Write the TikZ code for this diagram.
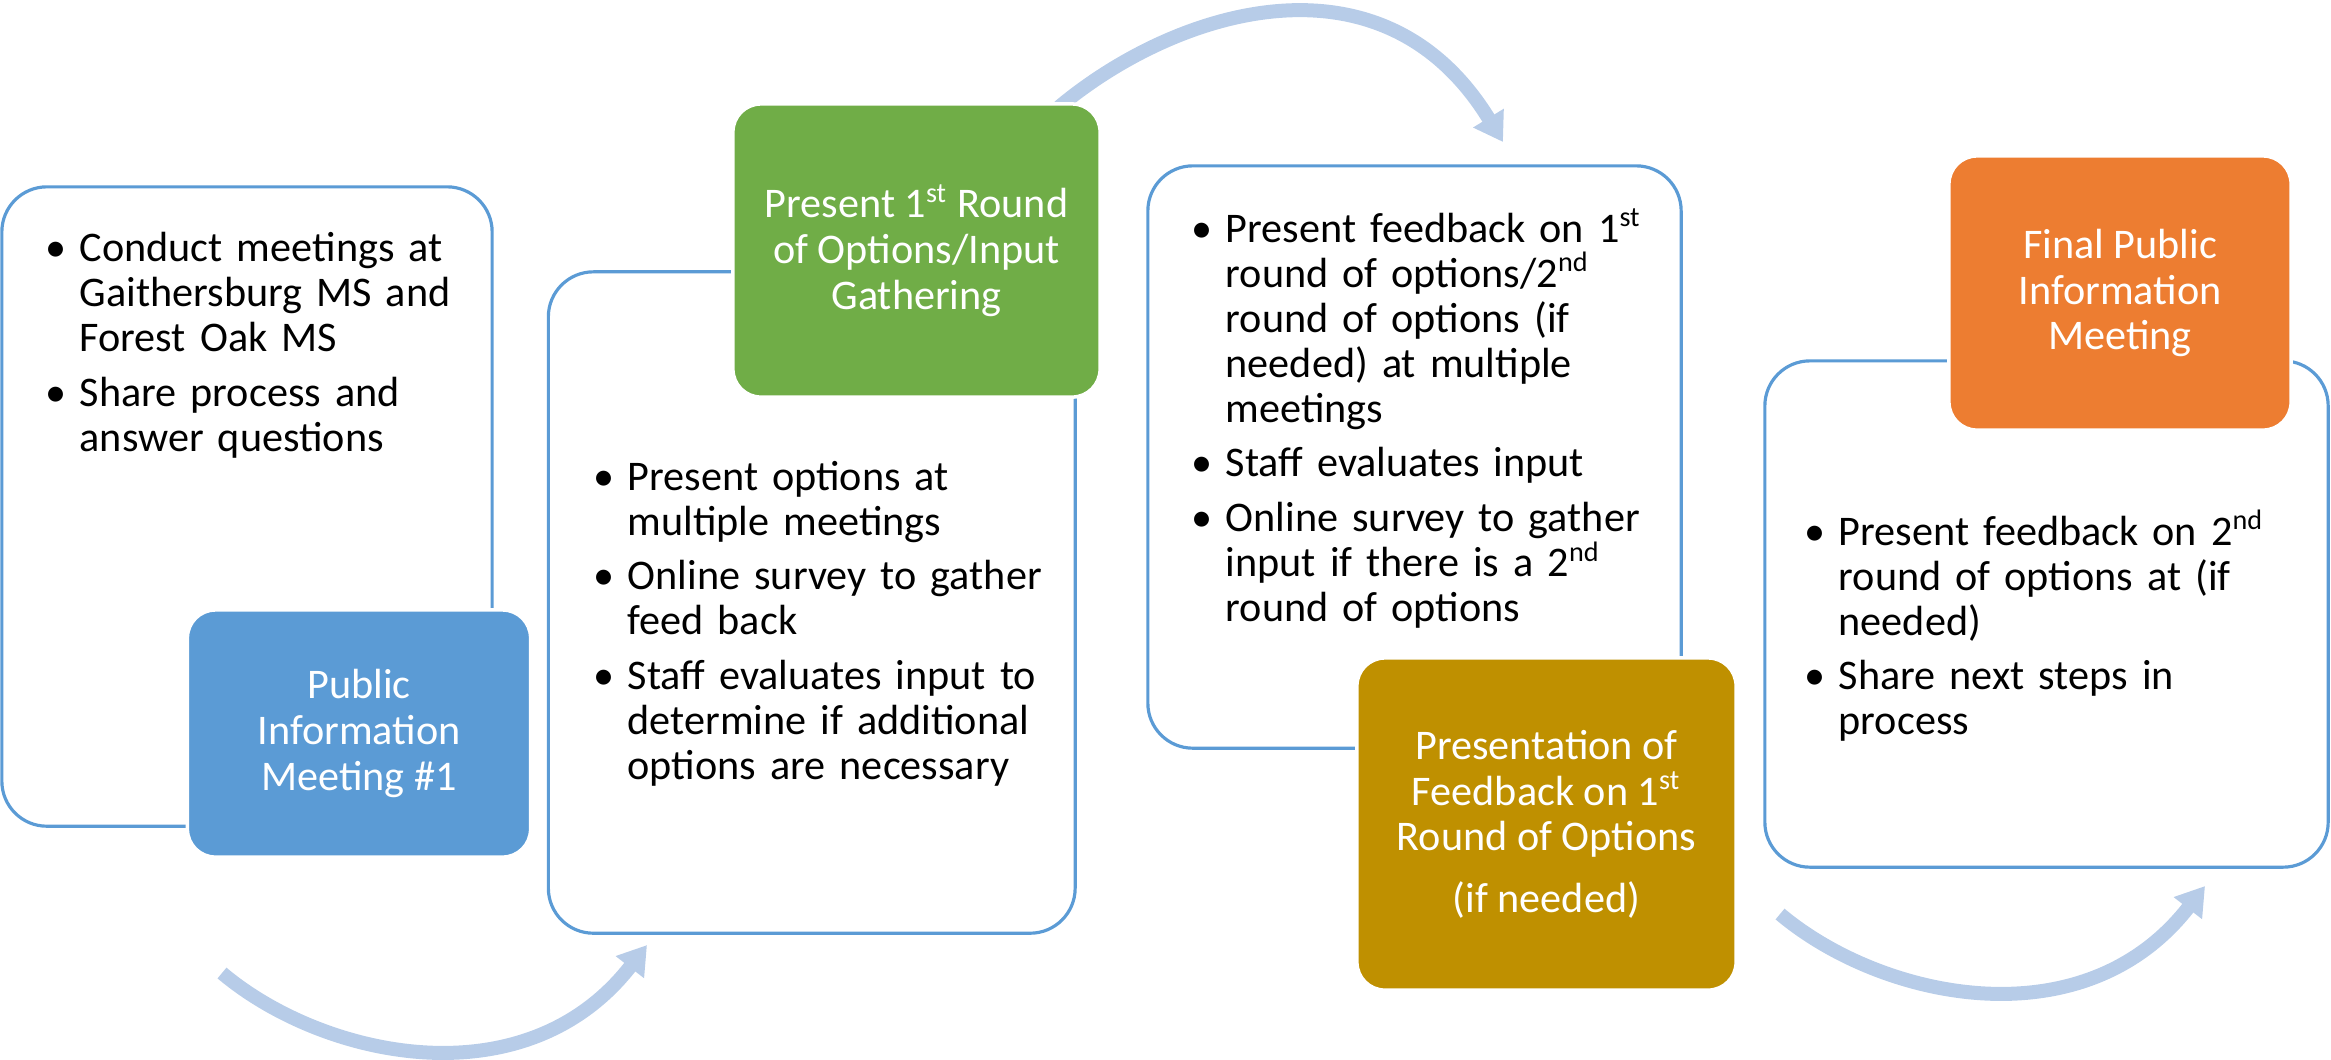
\documentclass[tikz,border=0pt]{standalone}
\usepackage{fontspec}
\setmainfont{Carlito}
\usetikzlibrary{arrows.meta,positioning}
\definecolor{edgeblue}{HTML}{5B9BD5}
\definecolor{arrowblue}{HTML}{B7CCE8}
\definecolor{stageblue}{HTML}{5B9BD5}
\definecolor{stagegreen}{HTML}{70AD47}
\definecolor{stagegold}{HTML}{BF9000}
\definecolor{stageorange}{HTML}{ED7D31}
\newcommand{\bpt}[1]{\noindent\hangindent=0.34cm\hangafter=1\hbox to 0.34cm{\textbullet\hss}#1\par\parskip=2.8pt\relax}
\begin{document}
\begin{tikzpicture}[x=0.01cm, y=-0.01cm,
		panel/.style={rectangle, rounded corners=0.45cm, draw=edgeblue, line width=0.9pt, fill=white, inner sep=0pt},
		stage/.style={rectangle, rounded corners=0.28cm, draw=white, line width=1pt, text=white, align=center, inner sep=0pt, font=\fontsize{12}{13}\selectfont},
		notes/.style={anchor=base west, text width=5cm, align=left, inner sep=0pt, font=\fontsize{12}{12.8}\selectfont},
		flow/.style={draw=arrowblue, line width=0.14cm, -{Triangle[width=0.34cm,length=0.28cm]}}
		]
		\useasboundingbox (0,0) rectangle (2331,1059);
		
		% curved flow arrows
		\coordinate (f1s) at (222,973);
		\coordinate (f1e) at (647,945);
		\coordinate (f2s) at (1059,107);
		\coordinate (f2e) at (1503,142);
		\coordinate (f3s) at (1780,914);
		\coordinate (f3e) at (2205,886);
		\draw[flow] (f1s) .. controls (323,1058) and (525,1102) .. (f1e);
		\draw[flow] (f2s) .. controls (1175,10) and (1382,-56) .. (f2e);
		\draw[flow] (f3s) .. controls (1881,999) and (2083,1043) .. (f3e);
		
		% white panels
		\node[panel, minimum width=4.9cm, minimum height=6.39cm] (box1) at (247,506.5) {};
		\node[panel, minimum width=5.265cm, minimum height=6.61cm] (box2) at (811.75,602.5) {};
		\node[panel, minimum width=5.33cm, minimum height=5.82cm] (box3) at (1414.5,457) {};
		\node[panel, minimum width=5.63cm, minimum height=5.06cm] (box4) at (2046.5,614) {};
		
		\node[notes] (note1) at (45,261.5) {%
			\bpt{Conduct meetings at\newline Gaithersburg MS and\newline Forest Oak MS}
			\bpt{Share process and\newline answer questions}};
		\node[notes] (note2) at (593,490) {%
			\bpt{Present options at\newline multiple meetings}
			\bpt{Online survey to gather\newline feed back}
			\bpt{Staff evaluates input to\newline determine if additional\newline options are necessary}};
		\node[notes] (note3) at (1191,242) {%
			\bpt{Present feedback on 1\textsuperscript{st}\newline round of options/2\textsuperscript{nd}\newline round of options (if\newline needed) at multiple\newline meetings}
			\bpt{Staff evaluates input}
			\bpt{Online survey to gather\newline input if there is a 2\textsuperscript{nd}\newline round of options}};
		\node[notes] (note4) at (1804,545) {%
			\bpt{Present feedback on 2\textsuperscript{nd}\newline round of options at (if\newline needed)}
			\bpt{Share next steps in\newline process}};
		
		% coloured stages
		\node[stage, fill=stageblue, minimum width=3.43cm, minimum height=2.47cm] (meet1) at (359,733.5) {Public\\Information\\Meeting \#1};
		\node[stage, fill=stagegreen, minimum width=3.67cm, minimum height=2.93cm] (round1) at (916.5,250.5) {Present 1\textsuperscript{st} Round\\of Options/Input\\Gathering};
		\node[stage, fill=stagegold, minimum width=3.79cm, minimum height=3.32cm] (feedback) at (1546.5,824) {Presentation of\\Feedback on 1\textsuperscript{st}\\Round of Options\\[4.4pt](if needed)};
		\node[stage, fill=stageorange, minimum width=3.42cm, minimum height=2.74cm] (final) at (2120,293) {Final Public\\Information\\Meeting};
	\end{tikzpicture}
\end{document}
